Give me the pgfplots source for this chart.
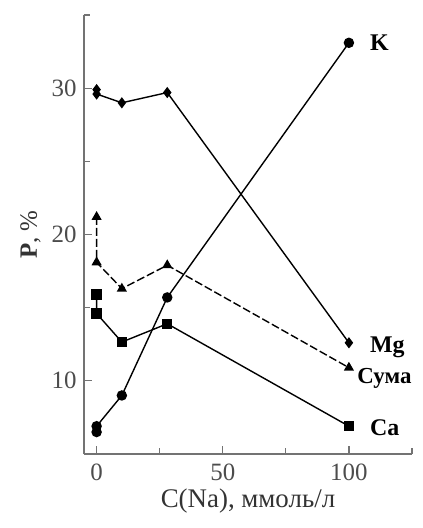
\documentclass[border=0pt]{standalone}
\usepackage{fontspec}
\setmainfont{Liberation Serif}
\usepackage{pgfplots}
\pgfplotsset{compat=1.18}
\definecolor{axgray}{gray}{0.45}
\begin{document}
\begin{tikzpicture}[x=1bp,y=1bp]
\begin{axis}[
  at={(0,0)}, anchor=south west,
  scale only axis, width=328bp, height=439bp,
  xmin=-5, xmax=125, ymin=5, ymax=35,
  axis x line*=bottom, axis y line*=left,
  axis line style={axgray, line width=1.6bp, -},
  xtick={0,50,100}, minor xtick={25,75,125},
  ytick={10,20,30}, minor ytick={5,15,25,35},
  tick align=inside,
  major tick length=8bp, minor tick length=6bp,
  tick style={axgray, line width=1.2bp},
  /pgf/number format/assume math mode=true,
  ticklabel style={font=\fontsize{25}{27}\selectfont, text=black!70},
  xticklabel style={yshift=-6bp},
  yticklabel style={xshift=-4bp},
  xlabel={C(Na), ммоль/л},
  ylabel={\textbf{P}, \%},
  label style={font=\fontsize{25}{27}\selectfont, text=black!80},
  xlabel style={yshift=-2bp, font=\fontsize{27}{29}\selectfont},
  ylabel style={yshift=4bp},
  clip=false,
  every axis plot/.append style={black, line width=1.4bp},
]
% K
\addplot[mark=*, mark size=4.5bp] coordinates {(0,6.5) (0,6.9) (10,9.0) (28,15.7) (100,33.1)};
% Mg
\addplot[mark=diamond*, mark size=4.5bp] coordinates {(0,29.9) (0,29.6) (10,29.0) (28,29.7) (100,12.6)};
% Ca
\addplot[mark=square*, mark size=4.5bp] coordinates {(0,15.9) (0,14.6) (10,12.65) (28,13.9) (100,6.9)};
% Suma
\addplot[dashed, dash pattern=on 8bp off 3bp, mark=triangle*, mark size=4.5bp, mark options={solid}] coordinates {(0,21.2) (0,18.1) (10,16.3) (28,17.9) (100,10.9)};
\node[anchor=west, font=\fontsize{24}{26}\selectfont\bfseries] at (axis cs:107,33.1) {K};
\node[anchor=west, font=\fontsize{24}{26}\selectfont\bfseries] at (axis cs:107,12.3) {Mg};
\node[anchor=west, font=\fontsize{23}{26}\selectfont\bfseries] at (axis cs:102,10.2) {Сума};
\node[anchor=west, font=\fontsize{24}{26}\selectfont\bfseries] at (axis cs:107,6.8) {Ca};
\end{axis}
\pgfresetboundingbox
\path (-84bp,-74bp) rectangle (339bp,454bp);
\end{tikzpicture}
\end{document}
